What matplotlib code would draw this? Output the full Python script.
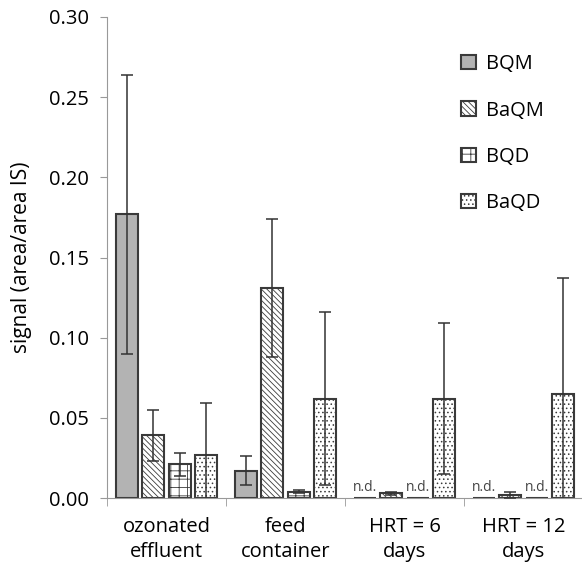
import numpy as np
import matplotlib.pyplot as plt

plt.rcParams['font.family'] = ['Open Sans', 'DejaVu Sans']
plt.rcParams['hatch.color'] = '#555555'
plt.rcParams['hatch.linewidth'] = 0.6

groups = ["ozonated\neffluent", "feed\ncontainer", "HRT = 6\ndays", "HRT = 12\ndays"]
series = ["BQM", "BaQM", "BQD", "BaQD"]
# nan = not detected
values = {
    "BQM":  [0.177, 0.017, np.nan, np.nan],
    "BaQM": [0.039, 0.131, 0.003, 0.002],
    "BQD":  [0.021, 0.004, np.nan, np.nan],
    "BaQD": [0.027, 0.062, 0.062, 0.065],
}
errors = {
    "BQM":  [0.087, 0.009, 0, 0],
    "BaQM": [0.016, 0.043, 0.001, 0.002],
    "BQD":  [0.007, 0.001, 0, 0],
    "BaQD": [0.032, 0.054, 0.047, 0.072],
}
fills = {"BQM": "#b3b3b3", "BaQM": "white", "BQD": "white", "BaQD": "white"}
hatches = {"BQM": None, "BaQM": "\\\\\\\\\\\\", "BQD": "++", "BaQD": "...."}

fig = plt.figure(figsize=(5.82, 5.77), dpi=100)
ax = fig.add_axes([107/582, 1-498/577, 476/582, (498-17)/577])

x = np.arange(len(groups))
width = 0.185
pitch = 0.222
for i, s in enumerate(series):
    pos = x + (i - 1.5) * pitch
    v = np.array(values[s])
    ax.bar(pos, np.nan_to_num(v), width, color=fills[s], edgecolor='#3a3a3a',
           linewidth=1.5, hatch=hatches[s], label=s, zorder=2)
    ok = ~np.isnan(v)
    ax.errorbar(pos[ok], v[ok], yerr=np.array(errors[s])[ok], fmt='none',
                ecolor='#333333', elinewidth=1.1, capsize=4, capthick=1.1, zorder=3)
    for p, val in zip(pos, v):
        if np.isnan(val):
            ax.text(p, 0.002, "n.d.", ha='center', va='bottom', fontsize=10, color='#444444')

ax.set_xlim(-0.5, 3.5)
ax.set_ylim(0, 0.30)
ax.set_yticks(np.arange(0, 0.301, 0.05))
ax.set_yticklabels([f"{t:.2f}" for t in np.arange(0, 0.301, 0.05)], fontsize=14.5)
ax.set_xticks(x)
ax.set_xticklabels(groups, fontsize=14.5, linespacing=1.3)
ax.set_xticks(np.arange(-0.5, 3.6, 1), minor=True)
ax.tick_params(axis='x', which='major', length=0, pad=14)
ax.tick_params(axis='x', which='minor', length=6, color='#999999')
ax.tick_params(axis='y', length=5, color='#999999', pad=8)
ax.set_ylabel("signal (area/area IS)", fontsize=15)
ax.yaxis.set_label_coords(-0.158, 0.5)

for sp in ['top', 'right']:
    ax.spines[sp].set_visible(False)
for sp in ['left', 'bottom']:
    ax.spines[sp].set_color('#999999')

leg = ax.legend(loc='upper right', bbox_to_anchor=(0.955, 0.96), frameon=False,
                fontsize=14.5, labelspacing=1.3, handlelength=0.7, handleheight=0.7,
                handletextpad=0.5)

fig.savefig("out.png", dpi=100)
